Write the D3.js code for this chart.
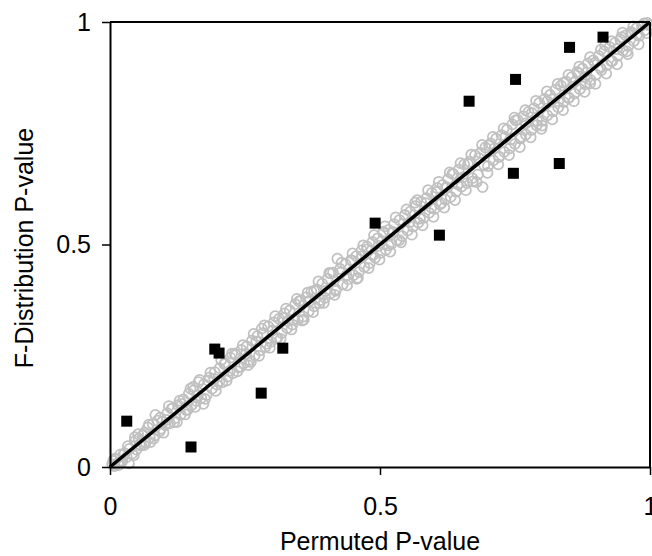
<!DOCTYPE html>
<html>
<head>
<meta charset="utf-8">
<script src="https://cdn.jsdelivr.net/npm/d3@7"></script>
<style>
  body { margin: 0; background: #fff; }
  svg { display: block; }
  text { font-family: "Liberation Sans", Arial, sans-serif; fill: #000; }
</style>
</head>
<body>
<svg id="chart" width="652" height="556"></svg>
<script>
// ---- data ----
const xTicks = [0, 0.5, 1];
const yTicks = [0, 0.5, 1];
const tickLabels = ["0", "0.5", "1"];
const xTitle = "Permuted P-value";
const yTitle = "F-Distribution P-value";

// grey open circles: null-distribution points (permuted vs F p-values)
const nullPoints = [
  [0.004,0.006],[0.008,0.002],[0.011,0.017],[0.015,0.009],[0.019,0.028],[0.023,0.014],[0.027,0.031],[0.031,0.022],[0.036,0.041],[0.041,0.030],[0.046,0.058],[0.049,0.039],
  [0.053,0.064],[0.057,0.048],[0.061,0.072],[0.066,0.055],[0.070,0.089],[0.074,0.066],[0.079,0.097],[0.083,0.071],[0.088,0.104],[0.092,0.080],[0.097,0.102],
  [0.102,0.094],[0.106,0.121],[0.111,0.098],[0.116,0.132],[0.121,0.110],[0.126,0.139],[0.131,0.118],[0.136,0.152],[0.141,0.128],[0.146,0.165],
  [0.151,0.139],[0.155,0.172],[0.160,0.148],[0.164,0.191],[0.169,0.155],[0.174,0.186],[0.179,0.162],[0.184,0.201],[0.189,0.176],[0.194,0.213],[0.198,0.185],
  [0.203,0.222],[0.208,0.190],[0.213,0.234],[0.218,0.203],[0.223,0.246],[0.228,0.211],[0.233,0.252],[0.238,0.224],[0.243,0.263],[0.248,0.233],
  [0.253,0.271],[0.258,0.240],[0.263,0.284],[0.268,0.251],[0.273,0.294],[0.278,0.262],[0.283,0.301],[0.288,0.270],[0.293,0.316],[0.298,0.281],
  [0.303,0.325],[0.308,0.289],[0.313,0.333],[0.318,0.301],[0.323,0.345],[0.328,0.312],[0.333,0.352],[0.338,0.320],[0.343,0.366],[0.348,0.331],
  [0.353,0.374],[0.358,0.338],[0.363,0.381],[0.368,0.350],[0.373,0.394],[0.378,0.361],[0.383,0.399],[0.388,0.368],[0.393,0.412],[0.398,0.380],
  [0.403,0.423],[0.408,0.390],[0.413,0.437],[0.418,0.399],[0.421,0.468],[0.426,0.445],[0.431,0.410],[0.436,0.456],[0.441,0.422],[0.446,0.465],
  [0.451,0.431],[0.456,0.474],[0.461,0.438],[0.466,0.487],[0.471,0.449],[0.476,0.495],[0.481,0.458],[0.486,0.506],[0.491,0.470],[0.496,0.514],
  [0.501,0.481],[0.506,0.526],[0.511,0.488],[0.516,0.533],[0.521,0.501],[0.526,0.546],[0.531,0.510],[0.536,0.555],[0.541,0.519],[0.546,0.566],
  [0.551,0.531],[0.556,0.574],[0.561,0.540],[0.566,0.586],[0.571,0.549],[0.576,0.596],[0.581,0.560],[0.586,0.604],[0.591,0.571],[0.596,0.616],
  [0.601,0.580],[0.606,0.627],[0.611,0.590],[0.616,0.634],[0.621,0.601],[0.626,0.647],[0.631,0.607],[0.636,0.658],[0.641,0.619],[0.646,0.668],
  [0.651,0.630],[0.656,0.680],[0.661,0.638],[0.666,0.686],[0.671,0.649],[0.676,0.701],[0.681,0.657],[0.686,0.706],[0.690,0.629],[0.695,0.718],
  [0.700,0.676],[0.705,0.727],[0.710,0.689],[0.715,0.738],[0.720,0.697],[0.725,0.746],[0.730,0.708],[0.735,0.758],[0.740,0.716],[0.745,0.770],
  [0.750,0.726],[0.755,0.780],[0.760,0.738],[0.765,0.788],[0.770,0.747],[0.775,0.798],[0.780,0.757],[0.785,0.806],[0.790,0.768],[0.795,0.818],
  [0.800,0.778],[0.805,0.827],[0.810,0.790],[0.815,0.836],[0.820,0.799],[0.825,0.848],[0.830,0.808],[0.835,0.857],[0.840,0.820],[0.845,0.866],
  [0.850,0.830],[0.855,0.876],[0.860,0.839],[0.865,0.888],[0.870,0.849],[0.875,0.895],[0.880,0.860],[0.885,0.907],[0.890,0.870],[0.895,0.914],
  [0.900,0.882],[0.905,0.924],[0.910,0.892],[0.915,0.934],[0.920,0.903],[0.925,0.944],[0.930,0.912],[0.935,0.953],[0.940,0.924],[0.945,0.961],
  [0.950,0.936],[0.955,0.970],[0.960,0.946],[0.965,0.978],[0.970,0.957],[0.975,0.986],[0.980,0.969],[0.985,0.992],[0.990,0.981],[0.995,0.998],[0.998,0.993]
];
const nullPointsWide = [
  [0.009,0.019],[0.021,0.011],[0.033,0.047],[0.044,0.026],[0.052,0.074],[0.063,0.049],[0.072,0.095],[0.081,0.064],[0.093,0.111],[0.099,0.077],
  [0.109,0.137],[0.119,0.101],[0.129,0.149],[0.139,0.118],[0.149,0.176],[0.158,0.135],[0.166,0.196],[0.176,0.153],[0.186,0.212],[0.196,0.171],
  [0.206,0.240],[0.216,0.194],[0.226,0.255],[0.236,0.215],[0.246,0.274],[0.256,0.229],[0.266,0.299],[0.276,0.250],[0.286,0.318],[0.296,0.268],
  [0.306,0.339],[0.316,0.288],[0.326,0.356],[0.336,0.309],[0.346,0.378],[0.356,0.329],[0.366,0.392],[0.376,0.348],[0.386,0.417],[0.396,0.369],
  [0.406,0.436],[0.416,0.387],[0.429,0.459],[0.439,0.408],[0.449,0.480],[0.459,0.425],[0.469,0.498],[0.479,0.447],[0.489,0.521],[0.499,0.466],
  [0.509,0.541],[0.519,0.484],[0.529,0.561],[0.539,0.505],[0.549,0.579],[0.559,0.522],[0.569,0.600],[0.579,0.543],[0.589,0.622],[0.599,0.562],
  [0.609,0.641],[0.619,0.583],[0.629,0.662],[0.639,0.600],[0.649,0.683],[0.659,0.622],[0.669,0.702],[0.679,0.640],[0.689,0.724],[0.699,0.661],
  [0.709,0.742],[0.719,0.680],[0.729,0.761],[0.739,0.701],[0.749,0.785],[0.759,0.719],[0.769,0.802],[0.779,0.741],[0.789,0.823],[0.799,0.760],
  [0.809,0.844],[0.819,0.781],[0.829,0.861],[0.839,0.802],[0.849,0.881],[0.859,0.822],[0.869,0.900],[0.879,0.843],[0.889,0.921],[0.899,0.861],
  [0.909,0.938],[0.919,0.884],[0.929,0.957],[0.939,0.905],[0.949,0.976],[0.959,0.928],[0.969,0.990],[0.979,0.950],[0.989,0.997],[0.994,0.975]
];
const nullPointsMixed = [
  [0.006,0.014],[0.016,0.004],[0.025,0.028],[0.035,0.008],[0.046,0.067],[0.055,0.051],[0.064,0.078],[0.075,0.056],[0.084,0.117],[0.094,0.086],
  [0.105,0.106],[0.114,0.131],[0.124,0.101],[0.133,0.142],[0.144,0.129],[0.154,0.180],[0.163,0.161],[0.173,0.142],[0.182,0.194],[0.193,0.198],
  [0.203,0.193],[0.212,0.231],[0.222,0.216],[0.231,0.255],[0.242,0.225],[0.252,0.254],[0.261,0.236],[0.271,0.282],[0.281,0.311],[0.290,0.277],
  [0.301,0.307],[0.310,0.290],[0.320,0.335],[0.329,0.328],[0.340,0.331],[0.350,0.372],[0.359,0.331],[0.369,0.373],[0.378,0.396],[0.389,0.375],
  [0.399,0.396],[0.408,0.435],[0.418,0.396],[0.427,0.437],[0.438,0.431],[0.448,0.464],[0.457,0.423],[0.467,0.474],[0.476,0.489],[0.487,0.476],
  [0.497,0.497],[0.506,0.529],[0.516,0.498],[0.525,0.528],[0.536,0.510],[0.546,0.566],[0.555,0.550],[0.565,0.594],[0.574,0.558],[0.585,0.593],
  [0.595,0.583],[0.604,0.618],[0.614,0.593],[0.623,0.629],[0.634,0.659],[0.644,0.635],[0.653,0.651],[0.663,0.681],[0.672,0.642],[0.683,0.694],
  [0.693,0.678],[0.702,0.723],[0.712,0.716],[0.721,0.697],[0.732,0.741],[0.742,0.736],[0.751,0.779],[0.761,0.742],[0.770,0.772],[0.781,0.796],
  [0.791,0.778],[0.800,0.767],[0.810,0.822],[0.819,0.826],[0.830,0.822],[0.840,0.864],[0.849,0.829],[0.859,0.864],[0.868,0.885],[0.879,0.876],
  [0.889,0.862],[0.898,0.908],[0.908,0.897],[0.917,0.948],[0.928,0.912],[0.938,0.939],[0.947,0.966],[0.957,0.934],[0.966,0.974],[0.976,0.972]
];
// black squares: observed tests
const observedX = [0.031, 0.150, 0.194, 0.202, 0.280, 0.320, 0.491, 0.610, 0.665, 0.751, 0.851, 0.913, 0.747, 0.832];
const observedY = [0.103, 0.045, 0.265, 0.256, 0.166, 0.267, 0.548, 0.521, 0.822, 0.871, 0.943, 0.966, 0.660, 0.682];
const refLine = [[0, 0], [1, 1]];

// ---- drawing ----
const svg = d3.select("#chart");
const x = d3.scaleLinear().domain([0, 1]).range([110, 650]);
const y = d3.scaleLinear().domain([0, 1]).range([467, 22]);

// circles
svg.append("g").selectAll("circle")
  .data(nullPoints.concat(nullPointsWide, nullPointsMixed))
  .join("circle")
  .attr("cx", d => x(d[0]))
  .attr("cy", d => y(d[1]))
  .attr("r", 5)
  .attr("fill", "none")
  .attr("stroke", "#c0c0c0")
  .attr("stroke-width", 1.75);

// frame top/right
svg.append("line").attr("x1", x(0)).attr("x2", x(1)).attr("y1", y(1)).attr("y2", y(1))
  .attr("stroke", "#000").attr("stroke-width", 2);
svg.append("line").attr("x1", x(1)).attr("x2", x(1)).attr("y1", y(0)).attr("y2", y(1))
  .attr("stroke", "#000").attr("stroke-width", 2);

// axes
const xAxis = svg.append("g").attr("transform", `translate(0,${y(0)})`)
  .call(d3.axisBottom(x).tickValues(xTicks).tickFormat(d => tickLabels[xTicks.indexOf(d)]).tickSize(8).tickSizeOuter(0).tickPadding(22));
const yAxis = svg.append("g").attr("transform", `translate(${x(0)},0)`)
  .call(d3.axisLeft(y).tickValues(yTicks).tickFormat(d => tickLabels[yTicks.indexOf(d)]).tickSize(8).tickSizeOuter(0).tickPadding(11));
[xAxis, yAxis].forEach(g => {
  g.select(".domain").attr("stroke", "#000").attr("stroke-width", 2);
  g.selectAll(".tick line").attr("stroke", "#000").attr("stroke-width", 1.5);
  g.selectAll(".tick text").style("font-family", '"Liberation Sans", Arial, sans-serif').style("font-size", "25px").attr("fill", "#000");
});

// reference diagonal
svg.append("line")
  .attr("x1", x(refLine[0][0])).attr("y1", y(refLine[0][1]))
  .attr("x2", x(refLine[1][0])).attr("y2", y(refLine[1][1]))
  .attr("stroke", "#000").attr("stroke-width", 3.5);

// squares
const sq = 11;
svg.append("g").selectAll("rect")
  .data(observedX.map((v, i) => [v, observedY[i]]))
  .join("rect")
  .attr("x", d => x(d[0]) - sq / 2)
  .attr("y", d => y(d[1]) - sq / 2)
  .attr("width", sq).attr("height", sq)
  .attr("fill", "#000");

// titles
svg.append("text").attr("x", 380).attr("y", 550).attr("text-anchor", "middle")
  .style("font-size", "25px").text(xTitle);
svg.append("text").attr("transform", "translate(33,248) rotate(-90)").attr("text-anchor", "middle")
  .style("font-size", "25px").text(yTitle);
</script>
</body>
</html>
